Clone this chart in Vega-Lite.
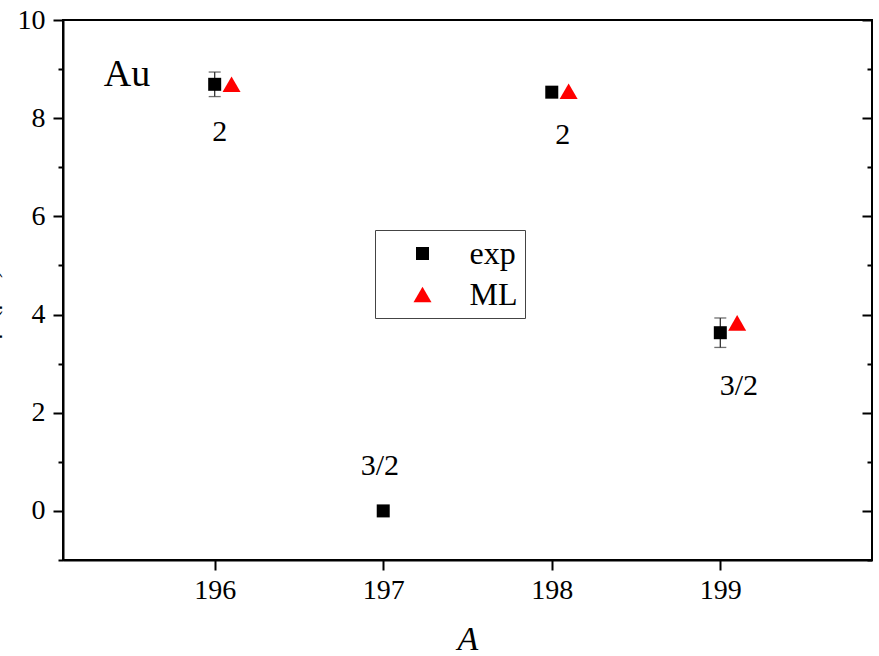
{
  "$schema": "https://vega.github.io/schema/vega-lite/v6.json",
  "autosize": "none",
  "width": 809,
  "height": 540,
  "padding": {"left": 63, "top": 20, "right": 7, "bottom": 96},
  "background": "white",
  "config": {
    "view": {"stroke": "black", "strokeWidth": 2},
    "font": "Liberation Serif",
    "axis": {
      "domainColor": "black", "domainWidth": 2, "tickColor": "black", "tickWidth": 2,
      "grid": false, "labelFont": "Liberation Serif", "labelFontSize": 27, "labelColor": "black",
      "titleFont": "Liberation Serif", "titleColor": "black", "titleFontWeight": "normal"
    }
  },
  "datasets": {
    "pts": [
      {"A": 196.0, "mu": 8.69, "series": "exp"},
      {"A": 197.0, "mu": 0.0, "series": "exp"},
      {"A": 198.0, "mu": 8.53, "series": "exp"},
      {"A": 199.0, "mu": 3.63, "series": "exp"},
      {"A": 196.1, "mu": 8.69, "series": "ML"},
      {"A": 198.1, "mu": 8.55, "series": "ML"},
      {"A": 199.1, "mu": 3.83, "series": "ML"}
    ],
    "errs": [
      {"A": 196.0, "lo": 8.44, "hi": 8.94},
      {"A": 199.0, "lo": 3.33, "hi": 3.93}
    ],
    "labels": [
      {"x": 196.03, "y": 7.72, "text": "2", "size": 30},
      {"x": 198.065, "y": 7.66, "text": "2", "size": 30},
      {"x": 196.98, "y": 0.92, "text": "3/2", "size": 30},
      {"x": 199.11, "y": 2.55, "text": "3/2", "size": 30},
      {"x": 195.48, "y": 8.87, "text": "Au", "size": 38}
    ]
  },
  "resolve": {"axis": {"y": "independent"}},
  "layer": [
    {
      "data": {"name": "errs"},
      "mark": {"type": "rule", "color": "#333", "strokeWidth": 1.3},
      "encoding": {
        "x": {"field": "A", "type": "quantitative", "scale": {"domain": [195.1, 199.9], "nice": false, "zero": false},
          "axis": {"values": [196, 197, 198, 199], "tickSize": 10, "labelPadding": 6, "labelFont": "Liberation Serif", "labelFontSize": 28, "title": "A", "titleFont": "Liberation Serif", "titleFontStyle": "italic", "titleFontSize": 34, "titlePadding": 18, "format": "d"}},
        "y": {"field": "lo", "type": "quantitative", "scale": {"domain": [-1, 10], "nice": false, "zero": false},
          "axis": {"values": [-1, 0, 1, 2, 3, 4, 5, 6, 7, 8, 9, 10],
            "labelExpr": "datum.value % 2 === 0 ? datum.label : ''",
            "labelFont": "Liberation Serif", "labelFontSize": 28,
            "tickSize": {"condition": {"test": "datum.value % 2 === 0", "value": 10}, "value": 5},
            "labelPadding": 8,
            "title": "μ (μN)", "titleFont": "Liberation Serif", "titleAngle": 270, "titleX": -67, "titleY": 284, "titleAlign": "center", "titleBaseline": "alphabetic", "titleFontSize": 26}},
        "y2": {"field": "hi"}
      }
    },
    {
      "data": {"name": "errs"},
      "mark": {"type": "tick", "color": "#333", "thickness": 1.3, "size": 12, "orient": "horizontal"},
      "encoding": {
        "x": {"field": "A", "type": "quantitative"},
        "y": {"field": "lo", "type": "quantitative", "axis": null}
      }
    },
    {
      "data": {"name": "errs"},
      "mark": {"type": "tick", "color": "#333", "thickness": 1.3, "size": 12, "orient": "horizontal"},
      "encoding": {
        "x": {"field": "A", "type": "quantitative"},
        "y": {"field": "hi", "type": "quantitative", "axis": null}
      }
    },
    {
      "data": {"name": "pts"},
      "mark": {"type": "point", "filled": true, "opacity": 1},
      "encoding": {
        "x": {"field": "A", "type": "quantitative"},
        "y": {"field": "mu", "type": "quantitative",
          "axis": {"orient": "right", "values": [-1, 0, 1, 2, 3, 4, 5, 6, 7, 8, 9, 10], "labels": false, "title": null, "domain": false,
            "tickSize": {"condition": {"test": "datum.value % 2 === 0", "value": -10}, "value": -5}}},
        "color": {"field": "series", "type": "nominal", "scale": {"domain": ["exp", "ML"], "range": ["black", "red"]},
          "legend": {"title": null, "orient": "none", "legendX": 312, "legendY": 210, "labelFont": "Liberation Serif", "labelFontSize": 32, "labelColor": "black",
            "strokeColor": "#444", "padding": 7.5, "rowPadding": 9, "symbolOffset": 24, "labelOffset": 31, "symbolStrokeWidth": 0}},
        "shape": {"field": "series", "type": "nominal", "scale": {"domain": ["exp", "ML"], "range": ["square", "triangle-up"]}},
        "size": {"field": "series", "type": "nominal", "scale": {"domain": ["exp", "ML"], "range": [169, 324]}}
      }
    },
    {
      "data": {"name": "labels"},
      "mark": {"type": "text", "font": "Liberation Serif", "color": "black", "baseline": "middle", "align": "center"},
      "encoding": {
        "x": {"field": "x", "type": "quantitative"},
        "y": {"field": "y", "type": "quantitative", "axis": null},
        "text": {"field": "text"},
        "size": {"field": "size", "type": "quantitative", "scale": null, "legend": null}
      }
    }
  ]
}
